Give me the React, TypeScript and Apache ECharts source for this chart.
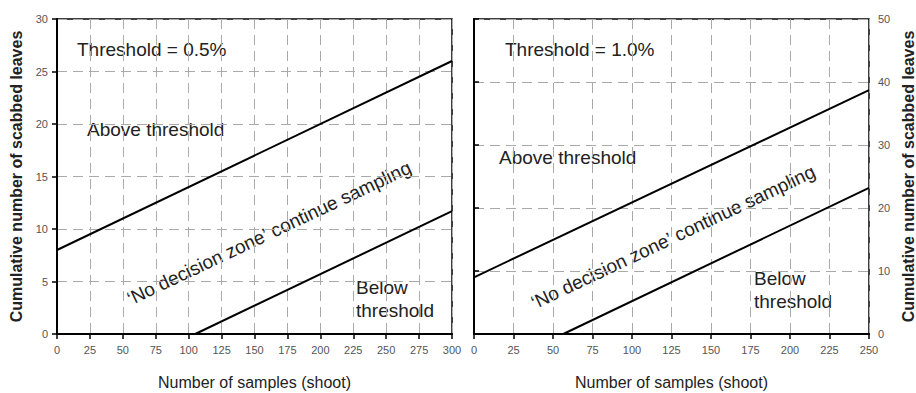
import React, { useEffect, useRef } from "react";
import * as echarts from "echarts";

// Left panel: threshold 0.5%
const leftXTicks = [0, 300];
const leftYRange = [0, 30];
const leftUpper: [number, number][] = [[0, 8], [300, 26]];
const leftLower: [number, number][] = [[105, 0], [300, 11.7]];

// Right panel: threshold 1.0%
const rightXRange = [0, 250];
const rightYRange = [0, 50];
const rightUpper: [number, number][] = [[0, 9], [250, 38.7]];
const rightLower: [number, number][] = [[56.5, 0], [250, 23.2]];

const xName = "Number of samples (shoot)";
const yName = "Cumulative number of scabbed leaves";
const leftTitle = "Threshold = 0.5%";
const rightTitle = "Threshold = 1.0%";
const aboveText = "Above threshold";
const zoneText = "\u2018No decision zone\u2019 continue sampling";
const belowLines = ["Below", "threshold"];

const FONT = "Liberation Sans, Arial, sans-serif";

export default function App() {
  const ref = useRef<HTMLDivElement>(null);
  useEffect(() => {
    document.body.style.margin = "0";
    const chart = echarts.init(ref.current!, null, { renderer: "svg" });
    const splitLine = {
      show: true,
      lineStyle: { color: "#aaaaaa", width: 1, type: [10, 6] as any },
    };
    const axisLine = { show: true, lineStyle: { color: "#000", width: 2 } };
    const axisTick = { show: true, inside: false, length: 5, lineStyle: { color: "#000", width: 1.5 } };
    const tickLabel = {
      color: "#555",
      fontSize: 11,
      fontFamily: FONT,
      showMinLabel: true,
      showMaxLabel: true,
    };
    const xAxisBase = {
      type: "value" as const,
      interval: 25,
      axisLine,
      axisTick,
      splitLine,
      axisLabel: { ...tickLabel, margin: 10 },
      name: xName,
      nameLocation: "middle" as const,
      nameGap: 40,
      nameTextStyle: { color: "#222", fontSize: 16, fontFamily: FONT },
    };
    const yAxisBase = {
      type: "value" as const,
      axisLine,
      axisTick,
      splitLine,
      name: yName,
      nameLocation: "middle" as const,
      nameRotate: 90,
      nameTextStyle: { color: "#222", fontSize: 16, fontWeight: "bold" as const, fontFamily: FONT },
    };
    const lineStyle = { color: "#000", width: 2 };
    const textStyle = (text: string, extra: any = {}) => ({
      text,
      fill: "#222",
      font: `19px ${FONT}`,
      ...extra,
    });
    const rot = (25.3 * Math.PI) / 180;
    const gridBase = {
      top: 19,
      width: 395,
      height: 315,
      show: true,
      borderColor: "#000",
      borderWidth: 1.5,
      containLabel: false,
      outerBoundsMode: "none",
    };

    chart.setOption({
      animation: false,
      backgroundColor: "#fff",
      grid: [
        { ...gridBase, left: 57 },
        { ...gridBase, left: 474 },
      ],
      xAxis: [
        { ...xAxisBase, gridIndex: 0, min: leftXTicks[0], max: leftXTicks[1] },
        { ...xAxisBase, gridIndex: 1, min: rightXRange[0], max: rightXRange[1] },
      ],
      yAxis: [
        {
          ...yAxisBase,
          gridIndex: 0,
          position: "left",
          min: leftYRange[0],
          max: leftYRange[1],
          interval: 5,
          nameGap: 33,
          axisLabel: { ...tickLabel, margin: 9 },
        },
        {
          ...yAxisBase,
          gridIndex: 1,
          position: "right",
          min: rightYRange[0],
          max: rightYRange[1],
          interval: 10,
          nameGap: 31,
          axisLabel: { ...tickLabel, margin: 9 },
        },
      ],
      series: [
        { type: "line", xAxisIndex: 0, yAxisIndex: 0, data: leftUpper, symbol: "none", lineStyle, silent: true },
        { type: "line", xAxisIndex: 0, yAxisIndex: 0, data: leftLower, symbol: "none", lineStyle, silent: true },
        { type: "line", xAxisIndex: 1, yAxisIndex: 1, data: rightUpper, symbol: "none", lineStyle, silent: true },
        { type: "line", xAxisIndex: 1, yAxisIndex: 1, data: rightLower, symbol: "none", lineStyle, silent: true },
      ],
      graphic: [
        { type: "text", left: 77, top: 40, style: textStyle(leftTitle) },
        { type: "text", left: 87, top: 120, style: textStyle(aboveText) },
        {
          type: "text",
          x: 269,
          y: 233,
          rotation: rot,
          style: textStyle(zoneText, { align: "center", verticalAlign: "middle" }),
        },
        { type: "text", left: 356, top: 278, style: textStyle(belowLines[0]) },
        { type: "text", left: 356, top: 301, style: textStyle(belowLines[1]) },
        { type: "text", left: 505, top: 40, style: textStyle(rightTitle) },
        { type: "text", left: 499, top: 148, style: textStyle(aboveText) },
        {
          type: "text",
          x: 673,
          y: 237,
          rotation: rot,
          style: textStyle(zoneText, { align: "center", verticalAlign: "middle" }),
        },
        { type: "text", left: 754, top: 269, style: textStyle(belowLines[0]) },
        { type: "text", left: 754, top: 292, style: textStyle(belowLines[1]) },
      ],
    });
    return () => chart.dispose();
  }, []);
  return <div ref={ref} style={{ position: "absolute", left: 0, top: 0, width: 916, height: 393 }} />;
}
